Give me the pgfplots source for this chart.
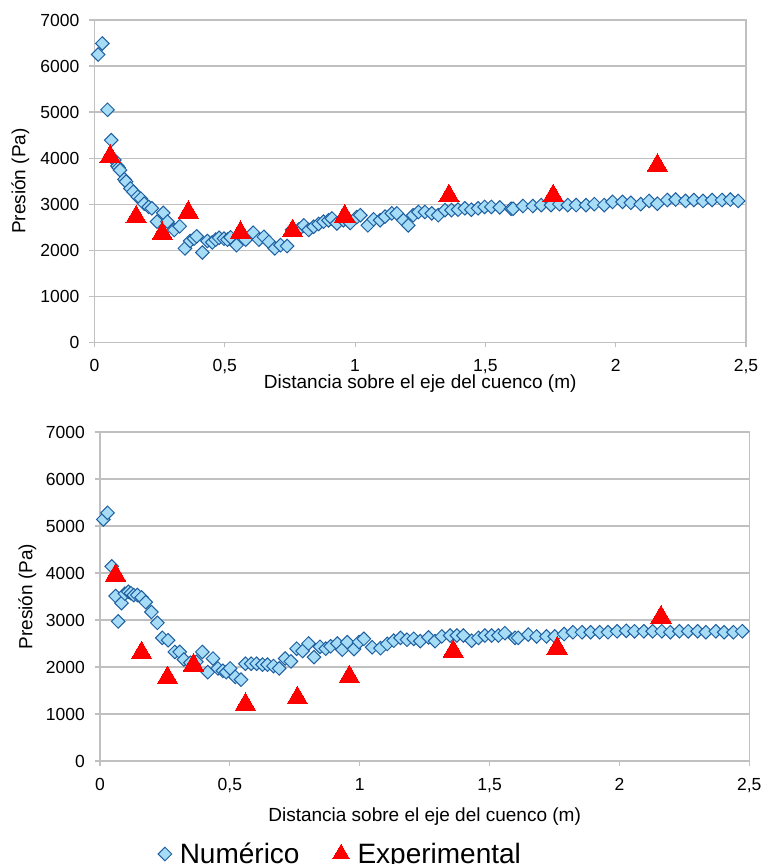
\documentclass[border=0pt]{standalone}
\usepackage{pgfplots}
\pgfplotsset{compat=1.18}
\usepackage{fontspec}
\setmainfont{Liberation Sans}
\definecolor{numfill}{RGB}{166,220,245}
\definecolor{numedge}{RGB}{30,95,160}
\definecolor{gridgray}{RGB}{192,192,192}

\pgfplotsset{
  presion/.style={
    scale only axis,
    xmin=0, xmax=2.5, ymin=0, ymax=7000,
    xtick={0,0.5,1,1.5,2,2.5},
    xticklabels={0,{0,5},1,{1,5},2,{2,5}},
    ytick={0,1000,2000,3000,4000,5000,6000,7000},
    yticklabels={0,1000,2000,3000,4000,5000,6000,7000},
    ymajorgrids,
    grid style={gridgray, line width=1.2pt},
    axis line style={gridgray, line width=1.2pt},
    tick style={gridgray, line width=1.2pt},
    tick align=outside,
    major tick length=5pt,
    xtick pos=bottom, ytick pos=left,
    ticklabel style={font=\fontsize{17.5}{20}\selectfont, text=black},
    yticklabel style={anchor=east, inner sep=0pt, xshift=-10pt},
    label style={font=\fontsize{19}{22}\selectfont},
    ylabel={Presión (Pa)},
    xlabel={Distancia sobre el eje del cuenco (m)},
    clip=false,
  },
  mylegimg/.style={legend image code/.code={\draw[##1] plot coordinates {(0pt,0pt)};}},
  numstyle/.style={only marks, mark=square*, mark size=4.8pt,
    mark options={rotate=45, fill=numfill, draw=numedge, line width=1pt}},
  expstyle/.style={only marks, mark=triangle*, mark size=11.8pt,
    mark options={fill=red, draw=red, line width=0pt}},
}

\begin{document}
\begin{tikzpicture}
\useasboundingbox (0pt,0pt) rectangle (765pt,864pt);

% ---------------- top chart ----------------
\begin{axis}[presion,
  at={(94.5pt,521.7pt)}, anchor=south west,
  width=651.5pt, height=322.3pt,
  xticklabel style={anchor=north, inner sep=0pt, yshift=-12pt},
  ylabel style={at={(axis description cs:-0.114,0.5)}, anchor=center},
  xlabel style={at={(axis description cs:0.5,0)}, anchor=base, yshift=-46.5pt},
]
\addplot[numstyle] table {
x y
0.014 6250
0.030 6490
0.050 5050
0.064 4390
0.076 3960
0.088 3830
0.093 3790
0.098 3740
0.115 3540
0.121 3490
0.138 3340
0.149 3270
0.166 3160
0.178 3120
0.191 3010
0.208 2940
0.220 2910
0.240 2620
0.264 2810
0.280 2620
0.306 2440
0.327 2520
0.347 2040
0.367 2200
0.382 2250
0.392 2300
0.414 1950
0.433 2200
0.452 2170
0.465 2230
0.478 2270
0.497 2250
0.510 2230
0.522 2280
0.545 2110
0.561 2360
0.580 2230
0.609 2380
0.631 2230
0.650 2290
0.669 2180
0.692 2040
0.714 2110
0.739 2090
0.758 2440
0.784 2450
0.803 2540
0.822 2440
0.841 2510
0.860 2570
0.879 2620
0.898 2650
0.911 2690
0.930 2580
0.955 2650
0.981 2590
1.007 2720
1.020 2760
1.049 2540
1.071 2670
1.096 2650
1.115 2730
1.141 2800
1.160 2800
1.185 2650
1.204 2540
1.223 2760
1.243 2830
1.268 2830
1.294 2800
1.319 2760
1.345 2870
1.370 2870
1.395 2880
1.421 2910
1.446 2880
1.472 2910
1.497 2940
1.523 2940
1.555 2930
1.599 2900
1.606 2900
1.644 2960
1.682 2960
1.714 2980
1.752 2980
1.784 3000
1.816 2980
1.848 2980
1.886 2980
1.918 3000
1.956 2980
1.988 3050
2.026 3050
2.058 3030
2.096 3000
2.128 3070
2.160 3010
2.198 3090
2.230 3100
2.268 3070
2.300 3090
2.335 3070
2.370 3090
2.408 3090
2.440 3100
2.470 3070
};
\addplot[expstyle] table {
x y
0.06 4030
0.16 2720
0.26 2360
0.36 2820
0.56 2380
0.76 2420
0.96 2740
1.36 3180
1.76 3180
2.16 3840
};
\end{axis}

% ---------------- bottom chart ----------------
\begin{axis}[presion,
  at={(100pt,103pt)}, anchor=south west,
  width=649.3pt, height=329pt,
  xticklabel style={anchor=north, inner sep=0pt, yshift=-12pt},
  ylabel style={at={(axis description cs:-0.112,0.5)}, anchor=center},
  xlabel style={at={(axis description cs:0.5,0)}, anchor=base, yshift=-60pt},
  legend columns=2,
  legend style={at={(axis description cs:0.0893,-0.2827)}, anchor=west,
    draw=none, fill=none, inner sep=0pt,
    font=\fontsize{28}{30}\selectfont,
    /tikz/every odd column/.append style={column sep=6pt},
    /tikz/every even column/.append style={column sep=31pt}},
]
\addplot[numstyle, mylegimg] table {
x y
0.013 5140
0.029 5280
0.045 4140
0.060 3510
0.070 2970
0.083 3360
0.096 3560
0.109 3600
0.119 3570
0.130 3530
0.144 3530
0.160 3480
0.176 3380
0.198 3170
0.221 2940
0.240 2620
0.262 2570
0.288 2320
0.307 2320
0.323 2160
0.348 2090
0.371 2110
0.394 2320
0.415 1890
0.435 2180
0.454 1970
0.473 1920
0.486 1890
0.501 1970
0.521 1790
0.543 1730
0.560 2070
0.582 2070
0.603 2070
0.626 2050
0.645 2050
0.668 2020
0.690 1970
0.713 2180
0.735 2120
0.757 2390
0.780 2340
0.803 2500
0.824 2210
0.847 2430
0.869 2390
0.888 2440
0.914 2500
0.933 2370
0.952 2530
0.978 2380
0.997 2530
1.016 2600
1.048 2420
1.080 2400
1.106 2490
1.131 2560
1.157 2620
1.182 2580
1.208 2600
1.233 2550
1.265 2630
1.290 2550
1.316 2650
1.348 2670
1.374 2670
1.399 2670
1.431 2560
1.457 2620
1.482 2670
1.508 2670
1.534 2670
1.559 2720
1.598 2620
1.610 2620
1.649 2690
1.681 2650
1.719 2650
1.751 2650
1.787 2700
1.821 2740
1.856 2740
1.889 2740
1.924 2740
1.956 2740
1.991 2760
2.026 2770
2.058 2760
2.094 2760
2.128 2760
2.163 2760
2.196 2740
2.231 2760
2.265 2760
2.301 2760
2.333 2740
2.371 2760
2.403 2740
2.439 2740
2.473 2760
};
\addlegendentry{Numérico}
\addplot[expstyle, mylegimg, legend image post style={mark size=9.8pt}] table {
x y
0.06 3950
0.16 2300
0.26 1770
0.36 2040
0.56 1200
0.76 1340
0.96 1790
1.36 2330
1.76 2400
2.16 3060
};
\addlegendentry{Experimental}
\end{axis}
\end{tikzpicture}
\end{document}
